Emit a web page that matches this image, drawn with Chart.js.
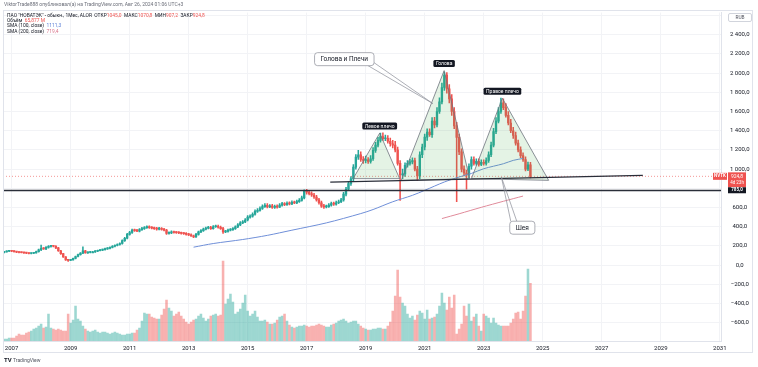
<!DOCTYPE html>
<html>
<head>
<meta charset="utf-8">
<script src="https://cdn.jsdelivr.net/npm/chart.js@4.4.1/dist/chart.umd.min.js"></script>
<style>
  html, body { margin: 0; padding: 0; background: #fff; }
  canvas { display: block; }
</style>
</head>
<body>
<canvas id="chart" width="758" height="367"></canvas>
<script>
// monthly candles, Oct 2006 .. Aug 2024 (НОВАТЭК, 1Мес)
const openP = [
  132, 138, 145,
  149, 145, 140, 136, 132, 130, 127, 125, 121, 124, 128, 140,
  160, 175, 170, 185, 195, 198, 197, 180, 150, 120, 86, 55,
  50, 55, 70, 90, 110, 125, 150, 128, 132, 138, 138, 145,
  152, 156, 162, 170, 175, 185, 197, 205, 215, 225, 255, 280,
  320, 340, 364, 360, 355, 370, 381, 390, 398, 390, 385, 381,
  375, 381, 372, 364, 330, 335, 346, 340, 338, 335, 330, 328,
  320, 315, 305, 294, 320, 346, 360, 375, 385, 392, 381, 400,
  405, 395, 381, 346, 350, 364, 370, 380, 398, 420, 440, 450,
  470, 500, 510, 530, 560, 571, 590, 610, 623, 606, 618, 600,
  612, 605, 625, 640, 630, 645, 638, 655, 648, 662, 675, 700,
  770, 760, 745, 730, 710, 680, 650, 615, 606, 610, 625, 640,
  636, 650, 660, 680, 740, 790, 849, 900, 1021, 1125, 1150, 1100,
  1090, 1098, 1080, 1108, 1195, 1250, 1300, 1340, 1316, 1320, 1290, 1264,
  1250, 1200, 1060, 940, 950, 1040, 1060, 1075, 1090, 1000, 930, 1150,
  1230, 1333, 1385, 1360, 1500, 1460, 1600, 1700, 1850, 1980, 1835, 1732,
  1600, 1450, 1330, 1180, 1000, 960, 940, 1030, 1100, 1060, 1080, 1050,
  1070, 1060, 1090, 1150, 1250, 1390, 1500, 1600, 1690, 1640, 1560, 1480,
  1400, 1350, 1270, 1200, 1140, 1100, 1000, 1045
];
const highP = [
  143, 150, 155,
  154, 149, 144, 140, 137, 134, 131, 129, 129, 134, 146, 168,
  208, 183, 193, 203, 206, 207, 203, 185, 155, 124, 90, 60,
  60, 74, 95, 116, 132, 190, 154, 138, 144, 145, 151, 158,
  162, 168, 177, 182, 192, 204, 212, 223, 233, 264, 290, 332,
  352, 376, 375, 372, 382, 393, 402, 410, 410, 401, 396, 393,
  394, 392, 384, 374, 346, 357, 356, 350, 349, 345, 340, 338,
  331, 325, 314, 330, 356, 371, 386, 396, 404, 403, 412, 417,
  418, 407, 393, 362, 375, 381, 392, 410, 432, 453, 463, 484,
  515, 525, 546, 576, 588, 607, 627, 641, 640, 630, 632, 625,
  628, 640, 655, 652, 660, 660, 670, 668, 678, 692, 718, 785,
  790, 780, 764, 748, 728, 697, 666, 632, 626, 641, 656, 656,
  666, 677, 697, 758, 810, 870, 922, 1046, 1152, 1195, 1180, 1130,
  1135, 1120, 1140, 1225, 1280, 1332, 1375, 1378, 1355, 1350, 1322, 1300,
  1290, 1230, 1090, 1000, 1066, 1088, 1102, 1118, 1115, 1030, 1180, 1262,
  1366, 1420, 1420, 1538, 1540, 1640, 1742, 1896, 2010, 2005, 1880, 1775,
  1640, 1486, 1364, 1210, 1035, 990, 1056, 1128, 1128, 1107, 1108, 1097,
  1097, 1118, 1180, 1282, 1425, 1538, 1640, 1740, 1732, 1682, 1600, 1518,
  1436, 1385, 1302, 1232, 1170, 1128, 1072, 1070.8
];
const lowP = [
  128, 134, 141,
  140, 136, 131, 127, 126, 123, 120, 116, 117, 120, 124, 136,
  152, 164, 162, 178, 188, 190, 172, 144, 112, 80, 50, 40,
  46, 52, 66, 86, 105, 120, 124, 123, 127, 132, 133, 140,
  147, 151, 157, 164, 170, 180, 191, 199, 209, 219, 248, 272,
  312, 331, 352, 348, 346, 362, 373, 382, 382, 377, 372, 365,
  367, 364, 356, 320, 322, 327, 332, 330, 328, 322, 320, 312,
  308, 298, 286, 288, 312, 338, 352, 366, 376, 372, 374, 392,
  385, 372, 330, 338, 343, 357, 362, 372, 390, 412, 432, 442,
  461, 490, 500, 520, 550, 562, 580, 600, 597, 598, 590, 592,
  594, 598, 615, 620, 622, 628, 630, 640, 640, 654, 665, 690,
  740, 730, 715, 695, 665, 635, 600, 590, 595, 600, 615, 622,
  625, 640, 650, 665, 722, 775, 830, 880, 1000, 1100, 1080, 1060,
  1065, 1060, 1062, 1090, 1175, 1230, 1280, 1300, 1295, 1270, 1240, 1220,
  1180, 1040, 675, 900, 925, 1020, 1040, 1055, 980, 880, 900, 1120,
  1200, 1300, 1340, 1330, 1430, 1440, 1580, 1680, 1820, 1790, 1690, 1560,
  1420, 660, 1150, 970, 930, 790, 910, 1000, 1040, 1040, 1030, 1035,
  1040, 1040, 1070, 1130, 1230, 1370, 1480, 1580, 1620, 1540, 1460, 1380,
  1320, 1250, 1180, 1120, 1080, 980, 985, 907.2
];
const closeP = [
  138, 145, 149,
  145, 140, 136, 132, 130, 127, 125, 121, 124, 128, 140, 160,
  175, 170, 185, 195, 198, 197, 180, 150, 120, 86, 55, 50,
  55, 70, 90, 110, 125, 150, 128, 132, 138, 138, 145, 152,
  156, 162, 170, 175, 185, 197, 205, 215, 225, 255, 280, 320,
  340, 364, 360, 355, 370, 381, 390, 398, 390, 385, 381, 375,
  381, 372, 364, 330, 335, 346, 340, 338, 335, 330, 328, 320,
  315, 305, 294, 320, 346, 360, 375, 385, 392, 381, 400, 405,
  395, 381, 346, 350, 364, 370, 380, 398, 420, 440, 450, 470,
  500, 510, 530, 560, 571, 590, 610, 623, 606, 618, 600, 612,
  605, 625, 640, 630, 645, 638, 655, 648, 662, 675, 700, 770,
  760, 745, 730, 710, 680, 650, 615, 606, 610, 625, 640, 636,
  650, 660, 680, 740, 790, 849, 900, 1021, 1125, 1150, 1100, 1090,
  1098, 1080, 1108, 1195, 1250, 1300, 1340, 1316, 1320, 1290, 1264, 1250,
  1200, 1060, 940, 950, 1040, 1060, 1075, 1090, 1000, 930, 1150, 1230,
  1333, 1385, 1360, 1500, 1460, 1600, 1700, 1850, 1980, 1835, 1732, 1600,
  1450, 1330, 1180, 1000, 960, 940, 1030, 1100, 1060, 1080, 1050, 1070,
  1060, 1090, 1150, 1250, 1390, 1500, 1600, 1690, 1640, 1560, 1480, 1400,
  1350, 1270, 1200, 1140, 1100, 1000, 1045, 924.8
];
// volume, millions
const volume = [
  2.3, 2.3, 3.4,
  3.4, 3.4, 5.7, 8, 6.8, 6.8, 9.1, 10.3, 11.4, 13.7, 14.8, 17.1,
  19.4, 14.8, 16, 30.8, 14.8, 13.7, 12.5, 13.7, 12.5, 11.4, 11.4, 30.8,
  20.5, 23.9, 39.9, 25.1, 22.8, 17.1, 13.7, 11.4, 10.3, 11.4, 12.5, 10.3,
  9.1, 10.3, 10.3, 9.1, 8, 9.1, 10.3, 9.1, 8, 6.8, 6.8, 8,
  8, 9.1, 9.1, 12.5, 14.8, 22.8, 31.9, 30.8, 30.8, 27.4, 26.2, 25.1,
  25.1, 29.6, 36.5, 46.7, 37.6, 34.2, 28.5, 30.8, 33.1, 28.5, 25.1, 21.7,
  19.4, 21.7, 23.9, 25.1, 28.5, 30.8, 26.2, 22.8, 25.1, 28.5, 29.6, 30.8,
  28.5, 29.6, 91.2, 42.2, 47.9, 53.6, 44.5, 30.8, 33.1, 36.5, 43.3, 52.4,
  34.2, 28.5, 30.8, 34.2, 27.4, 22.8, 22.8, 23.9, 21.7, 19.4, 19.4, 20.5,
  23.9, 27.4, 28.5, 30.8, 22.8, 18.2, 16, 14.8, 16, 17.1, 17.1, 18.2,
  17.1, 16, 17.1, 17.1, 18.2, 19.4, 18.2, 17.1, 16, 16, 18.2, 19.4,
  20.5, 22.8, 23.9, 25.1, 22.8, 20.5, 21.7, 22.8, 22.8, 19.4, 17.1, 14.8,
  13.7, 12.5, 12.5, 13.7, 13.7, 14.8, 14.8, 13.7, 13.7, 17.1, 21.7, 34.2,
  51.3, 80.9, 50.2, 43.3, 39.9, 30.8, 26.2, 28.5, 23.9, 29.6, 34.2, 31.9,
  25.1, 35.3, 25.1, 26.2, 27.4, 30.8, 39.9, 54.7, 43.3, 35.3, 50.2, 37.6,
  52.4, 8, 13.7, 19.4, 39.9, 28.5, 42.2, 22.8, 27.4, 30.8, 17.1, 11.4,
  30.8, 28.5, 26.2, 20.5, 26.2, 20.5, 18.2, 17.1, 17.1, 17.1, 17.1, 20.5,
  25.1, 31.9, 33.1, 25.1, 34.2, 51.3, 82.1, 65.877
];

// moving averages
const sma100Months = ['2013-03', '2013-11', '2014-11', '2015-09', '2016-07', '2017-09', '2018-11', '2019-04', '2019-12',
  '2020-08', '2021-01', '2021-09', '2022-03', '2022-08', '2023-01', '2023-09', '2024-01', '2024-05'];
const sma100Values = [187, 225, 267, 310, 364, 440, 537, 579, 660, 727, 779, 866, 918, 955, 1004, 1056, 1091, 1111.3];
const sma200Months = ['2021-08', '2022-03', '2022-12', '2023-09', '2024-05'];
const sma200Values = [485, 535, 602, 665, 719.4];

const xTickLabels = ['2007', '2009', '2011', '2013', '2015', '2017', '2019', '2021', '2023', '2025', '2027', '2029', '2031'];
const priceTicks = [-600, -400, -200, 0, 200, 400, 600, 800, 1000, 1200, 1400, 1600, 1800, 2000, 2200, 2400, 2600];

// drawing objects: [month index, price]
const leftShoulder = [[141.9, 901], [152.7, 1375], [160.8, 901]];
const headTri = [[161.5, 883], [178.9, 2026], [189.3, 901]];
const rightShoulder = [[190.0, 901], [202.6, 1738], [221.4, 883]];
const neckline = [[132.6, 865], [259.7, 935]];
const supportLevel = 785;
const lastPrice = 924.8;
const hsCallout = { text: 'Голова и Плечи', center: [138.3, 2145], target: [174.3, 1683] };
const neckCallout = { text: 'Шея', center: [210.7, 390], target: [202.2, 917] };

// category axis: every month Oct 2006 .. Jan 2031
const months = [];
for (let y = 2006, m = 10; months.length < 292; m++) {
  if (m > 12) { m = 1; y++; }
  months.push(y + '-' + String(m).padStart(2, '0'));
}
const xTickIdx = xTickLabels.map(l => months.indexOf(l + '-01'));

const UP = '#26a69a', DOWN = '#ef5350';
const candleColors = closeP.map((c, i) => (c >= openP[i] ? UP : DOWN));
const volColors = closeP.map((c, i) => (c >= openP[i] ? 'rgba(38,166,154,0.45)' : 'rgba(239,83,80,0.45)'));
const FONT = 'Roboto, "Noto Sans", sans-serif';

function fmtPrice(v) {
  const s = Math.abs(v).toFixed(1).replace('.', ',');
  const [a, b] = s.split(',');
  const grouped = a.replace(/\B(?=(\d{3})+(?!\d))/g, ' ');
  return (v < 0 ? '−' : '') + grouped + ',' + b;
}

function roundRect(ctx, x, y, w, h, r) {
  ctx.beginPath();
  ctx.moveTo(x + r, y);
  ctx.arcTo(x + w, y, x + w, y + h, r);
  ctx.arcTo(x + w, y + h, x, y + h, r);
  ctx.arcTo(x, y + h, x, y, r);
  ctx.arcTo(x, y, x + w, y, r);
  ctx.closePath();
}

const overlay = {
  id: 'overlay',
  afterDatasetsDraw(chart) {
    const { ctx, chartArea: a, scales: { x, y } } = chart;
    const P = p => [x.getPixelForValue(p[0]), y.getPixelForValue(p[1])];
    ctx.save();
    ctx.beginPath();
    ctx.rect(a.left, a.top, a.right - a.left, a.bottom - a.top);
    ctx.clip();

    // last price dotted line
    const yl = y.getPixelForValue(lastPrice);
    ctx.strokeStyle = 'rgba(239,83,80,0.6)';
    ctx.lineWidth = 1;
    ctx.setLineDash([1, 2]);
    ctx.beginPath(); ctx.moveTo(a.left, yl); ctx.lineTo(a.right, yl); ctx.stroke();
    ctx.setLineDash([]);

    // triangles
    [leftShoulder, headTri, rightShoulder].forEach(t => {
      ctx.beginPath();
      t.forEach((p, k) => { const [px, py] = P(p); k ? ctx.lineTo(px, py) : ctx.moveTo(px, py); });
      ctx.closePath();
      ctx.fillStyle = 'rgba(76,175,80,0.15)';
      ctx.fill();
      ctx.strokeStyle = '#6f737e';
      ctx.lineWidth = 0.8;
      ctx.stroke();
    });

    // neckline
    const n0 = P(neckline[0]), n1 = P(neckline[1]);
    ctx.strokeStyle = '#2a2e39';
    ctx.lineWidth = 1.2;
    ctx.beginPath(); ctx.moveTo(n0[0], n0[1]); ctx.lineTo(n1[0], n1[1]); ctx.stroke();

    // support level
    const ys = Math.round(y.getPixelForValue(supportLevel)) + 0.5;
    ctx.strokeStyle = '#2a2e39';
    ctx.lineWidth = 1.5;
    ctx.beginPath(); ctx.moveTo(a.left, ys); ctx.lineTo(a.right, ys); ctx.stroke();

    // callouts
    ctx.font = '6.5px ' + FONT;
    [[hsCallout, 'br'], [neckCallout, 'tl']].forEach(([c, side]) => {
      const [cx, cy] = P(c.center);
      const [tx, ty] = P(c.target);
      const w = ctx.measureText(c.text).width + 12, h = 13;
      const bx = cx - w / 2, by = cy - h / 2;
      let p1, p2;
      if (side === 'br') { p1 = [bx + w - 6, by + h]; p2 = [bx + w, by + h - 3]; }
      else { p1 = [bx + 1, by]; p2 = [bx + 7, by]; }
      ctx.strokeStyle = '#8a8d96';
      ctx.lineWidth = 0.7;
      ctx.beginPath(); ctx.moveTo(p1[0], p1[1]); ctx.lineTo(tx, ty); ctx.lineTo(p2[0], p2[1]); ctx.stroke();
      roundRect(ctx, bx, by, w, h, 3);
      ctx.fillStyle = '#fff';
      ctx.fill();
      ctx.stroke();
      ctx.fillStyle = '#131722';
      ctx.textAlign = 'center';
      ctx.textBaseline = 'middle';
      ctx.fillText(c.text, cx, cy + 0.5);
    });

    // dark labels above apexes
    ctx.font = '5px ' + FONT;
    [['Левое плечо', leftShoulder[1]], ['Голова', headTri[1]], ['Правое плечо', rightShoulder[1]]].forEach(([t, p]) => {
      const [px, py] = P(p);
      const w = ctx.measureText(t).width + 5, h = 7;
      roundRect(ctx, px - w / 2, py - 7 - h / 2, w, h, 1.5);
      ctx.fillStyle = '#131722';
      ctx.fill();
      ctx.fillStyle = '#fff';
      ctx.textAlign = 'center';
      ctx.textBaseline = 'middle';
      ctx.fillText(t, px, py - 7 + 0.3);
    });
    ctx.restore();
  },
  afterDraw(chart) {
    const { ctx, scales: { y } } = chart;
    ctx.save();
    // pane frame
    ctx.strokeStyle = '#e0e3eb';
    ctx.lineWidth = 1;
    ctx.strokeRect(3.5, 10.5, 749, 342);

    // axis price labels
    const yl = y.getPixelForValue(lastPrice);
    ctx.fillStyle = DOWN;
    ctx.fillRect(713, yl - 3.5, 14, 7);
    ctx.fillRect(728, yl - 4, 18, 15);
    ctx.fillStyle = '#fff';
    ctx.font = 'bold 4.5px ' + FONT;
    ctx.textAlign = 'center';
    ctx.textBaseline = 'middle';
    ctx.fillText('NVTK', 720, yl);
    ctx.font = '5px ' + FONT;
    ctx.fillText(fmtPrice(lastPrice), 737, yl);
    ctx.font = '4.5px ' + FONT;
    ctx.fillText('4d 23h', 737, yl + 6.5);
    const ys = y.getPixelForValue(supportLevel);
    ctx.fillStyle = '#131722';
    ctx.fillRect(728, ys - 2.5, 18, 6);
    ctx.fillStyle = '#fff';
    ctx.font = 'bold 4.5px ' + FONT;
    ctx.fillText(fmtPrice(supportLevel), 737, ys + 0.5);

    // currency box
    ctx.strokeStyle = '#d1d4dc';
    ctx.fillStyle = '#fff';
    roundRect(ctx, 728.5, 13.5, 23, 8, 1.5);
    ctx.fill(); ctx.stroke();
    ctx.fillStyle = '#50535e';
    ctx.font = '4.8px ' + FONT;
    ctx.fillText('RUB', 740, 17.8);

    // header
    ctx.textAlign = 'left';
    ctx.textBaseline = 'middle';
    ctx.font = '5px ' + FONT;
    ctx.fillStyle = '#6a6d78';
    ctx.fillText('ViktorTrade888 опубликовал(а) на TradingView.com, Авг 26, 2024 01:06 UTC+3', 4, 5);
    const seg = (parts, x0, yy) => {
      let xx = x0;
      parts.forEach(([t, c]) => { ctx.fillStyle = c; ctx.fillText(t, xx, yy); xx += ctx.measureText(t).width; });
    };
    const ink = '#131722';
    ctx.font = '4.9px ' + FONT;
    seg([['ПАО "НОВАТЭК" - обыкн., 1Мес, ALOR  ОТКР', ink], ['1045,0', DOWN], ['  МАКС', ink], ['1070,8', DOWN],
      ['  МИН', ink], ['907,2', DOWN], ['  ЗАКР', ink], ['924,8', DOWN]], 7, 15.3);
    seg([['Объём  ', ink], ['65,877 M', DOWN]], 7, 20.8);
    seg([['SMA (100, close)  ', ink], ['1111,3', '#5b7fd6']], 7, 26.1);
    seg([['SMA (200, close)  ', ink], ['719,4', '#d9738a']], 7, 31.4);

    // logo
    ctx.font = 'bold 6px ' + FONT;
    ctx.fillStyle = '#131722';
    ctx.fillText('TV', 4, 360.5);
    ctx.font = '5px ' + FONT;
    ctx.fillStyle = '#50535e';
    ctx.fillText('TradingView', 13, 360.5);
    ctx.restore();
  }
};

new Chart(document.getElementById('chart'), {
  data: {
    labels: months,
    datasets: [
      { type: 'bar', label: 'Объём', data: volume, yAxisID: 'yv', backgroundColor: volColors,
        barThickness: 1.9, grouped: false, order: 5 },
      { type: 'bar', label: 'wick', data: lowP.map((l, i) => [l, highP[i]]), backgroundColor: candleColors,
        barThickness: 0.9, grouped: false, order: 3 },
      { type: 'bar', label: 'body', data: openP.map((o, i) => [o, closeP[i]]), backgroundColor: candleColors,
        barThickness: 1.7, minBarLength: 1, grouped: false, order: 2 },
      { type: 'line', label: 'SMA 100', data: sma100Months.map((m, k) => ({ x: m, y: sma100Values[k] })),
        borderColor: '#6f8fd8', borderWidth: 1, pointRadius: 0, tension: 0.3, order: 1 },
      { type: 'line', label: 'SMA 200', data: sma200Months.map((m, k) => ({ x: m, y: sma200Values[k] })),
        borderColor: '#e08a9a', borderWidth: 1, pointRadius: 0, tension: 0.3, order: 1 }
    ]
  },
  options: {
    responsive: false,
    animation: false,
    devicePixelRatio: 1,
    layout: { padding: { left: 3, top: 12, right: 0, bottom: 12 } },
    plugins: { legend: { display: false }, tooltip: { enabled: false } },
    scales: {
      x: {
        type: 'category',
        offset: true,
        grid: { color: '#f2f3f6', offset: false, drawTicks: false },
        border: { color: '#e0e3eb' },
        afterBuildTicks: s => { s.ticks = xTickIdx.map(v => ({ value: v })); },
        afterFit: s => { s.height = 14; },
        ticks: {
          autoSkip: false, maxRotation: 0, padding: 4, color: '#131722',
          font: { family: FONT, size: 6 },
          callback: (v, i) => xTickLabels[i]
        }
      },
      y: {
        position: 'right',
        min: -790,
        max: 2630,
        grid: { color: '#f2f3f6', drawTicks: false },
        border: { color: '#e0e3eb' },
        afterBuildTicks: s => { s.ticks = priceTicks.map(v => ({ value: v })); },
        afterFit: s => { s.width = 37; },
        ticks: {
          padding: 9, crossAlign: 'center', color: '#131722',
          font: { family: FONT, size: 6 },
          callback: v => (v === 800 || v === 2600 ? '' : fmtPrice(v))
        }
      },
      yv: { display: false, min: 0, max: 375 }
    }
  },
  plugins: [overlay]
});
</script>
</body>
</html>
